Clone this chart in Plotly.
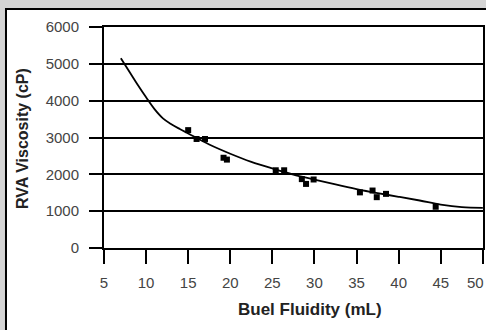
import plotly.graph_objects as go

# Fitted curve
curve_x = [7, 8, 9, 10, 11, 12, 13, 14, 15, 17.5, 20, 22.5, 25, 27.5, 30, 32.5, 35, 37.5, 40, 42.5, 45, 47.5, 50]
curve_y = [5150, 4790, 4430, 4090, 3770, 3520, 3360, 3230, 3110, 2810, 2560, 2340, 2160, 1995, 1860, 1725, 1600, 1490, 1390, 1290, 1180, 1110, 1090]

# Measured points
pts_x = [15, 16, 17, 19.2, 19.6, 25.4, 26.4, 28.5, 29.0, 29.9, 35.4, 36.9, 37.4, 38.5, 44.4]
pts_y = [3200, 2960, 2960, 2450, 2400, 2110, 2110, 1870, 1740, 1860, 1510, 1560, 1380, 1470, 1120]

x_ticks = [5, 10, 15, 20, 25, 30, 35, 40, 45, 50]
y_ticks = [0, 1000, 2000, 3000, 4000, 5000, 6000]

fig = go.Figure()
fig.add_trace(go.Scatter(x=curve_x, y=curve_y, mode="lines", line=dict(color="black", width=1.8, shape="spline"),
                         hoverinfo="skip", showlegend=False))
fig.add_trace(go.Scatter(x=pts_x, y=pts_y, mode="markers",
                         marker=dict(symbol="square", size=6, color="black"), showlegend=False))

tickfont = dict(family="Liberation Sans, Arial, sans-serif", size=15, color="#444")
# last x label is drawn as an annotation nudged left so it fits inside the page
x_ticktext = [str(v) for v in x_ticks[:-1]] + [""]
fig.update_xaxes(range=[5, 50.02], tickvals=x_ticks, ticktext=x_ticktext, ticks="outside", ticklen=14, tickwidth=1.5,
                 tickcolor="black", showline=True, linewidth=2, linecolor="black", mirror=True, showgrid=False,
                 zeroline=False, tickfont=tickfont, ticklabelstandoff=6, automargin=False)
fig.update_yaxes(range=[0, 6000], tickvals=y_ticks, ticks="outside", ticklen=13, tickwidth=1.5, tickcolor="black",
                 showline=True, linewidth=2, linecolor="black", mirror=True, showgrid=True, gridcolor="black",
                 gridwidth=1.5, zeroline=False, tickfont=tickfont, ticklabelstandoff=7, automargin=False,
                 ticklabeloverflow="allow")

titlefont = dict(family="Liberation Sans, Arial, sans-serif", size=17, color="#222")
fig.update_layout(
    width=486, height=330,
    margin=dict(l=104, r=3, t=27, b=82, autoexpand=False),
    paper_bgcolor="#d4d4d4", plot_bgcolor="white",
    shapes=[dict(type="rect", xref="paper", yref="paper", x0=-0.2586, x1=1.03, y0=-0.42, y1=1.0814,
                 fillcolor="white", line=dict(color="black", width=2), layer="below")],
    annotations=[
        dict(text=str(x_ticks[-1]), xref="paper", yref="paper", x=(486 - 104) / 379, y=(248 - 282) / 221,
             showarrow=False, font=tickfont, xanchor="right", yanchor="middle"),
        dict(text="<b>Buel Fluidity (mL)</b>", xref="paper", yref="paper", x=(310 - 104) / 379, y=(248 - 309) / 221,
             showarrow=False, font=titlefont, xanchor="center", yanchor="middle"),
        dict(text="<b>RVA Viscosity (cP)</b>", xref="paper", yref="paper", x=(22 - 104) / 379, y=(248 - 139) / 221,
             showarrow=False, font=dict(family="Liberation Sans, Arial, sans-serif", size=16, color="#222"),
             textangle=-90, xanchor="center", yanchor="middle"),
    ],
)

fig.write_html("out.html", config={"displayModeBar": False},
               post_script="document.body.style.margin='0';document.body.style.overflow='hidden';")
